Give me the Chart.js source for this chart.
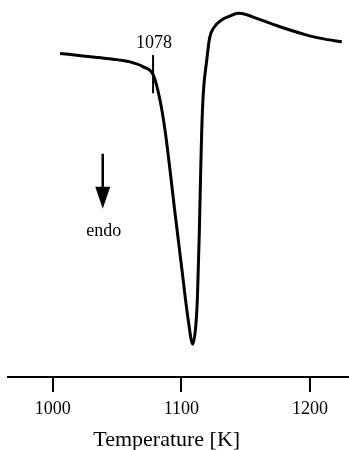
<!DOCTYPE html>
<html>
<head>
<meta charset="utf-8">
<script src="https://cdn.jsdelivr.net/npm/chart.js@4"></script>
<style>
  html, body { margin: 0; padding: 0; background: #fff; }
  #wrap { width: 349px; height: 450px; position: relative; }
</style>
</head>
<body>
<div id="wrap"><canvas id="dsc"></canvas></div>
<script>
// temperature [K] and heat flow signal (arbitrary units)
const temps = [1005.7, 1025.1, 1042.0, 1060.1, 1070.4, 1078.2, 1083.4, 1087.3, 1091.2, 1094.5,
  1100.2, 1105.4, 1108.8, 1111.3, 1112.5, 1113.9, 1115.0, 1115.8, 1117.0, 1119.7,
  1121.9, 1124.8, 1131.3, 1137.8, 1144.2, 1150.2, 1158.5, 1176.6, 1197.4, 1211.6, 1224.6];
const signal = [322.7, 320, 317.7, 314.3, 309.3, 301, 276, 246, 206, 169.3,
  109.3, 56, 32.7, 53, 81, 143, 206, 246, 282.7, 316,
  338, 347.7, 356, 360, 362.7, 361.5, 357.7, 349.3, 341, 337, 334.3];
const tickValues = [1000, 1100, 1200];

// onset marker and the "endo" arrow
const onsetTemp = 1078;
const onsetLabel = '1078';
const onsetSpan = [283, 321];
const arrowTemp = 1038.9;
const arrowSpan = [222.7, 167.7];
const endoLabel = 'endo';
const xTitle = 'Temperature [K]';
const xTitleTemp = 1088.6;

const serif = '"Liberation Serif", "Times New Roman", serif';

const extras = {
  id: 'extras',
  afterDraw(chart) {
    const ctx = chart.ctx;
    const x = chart.scales.x, y = chart.scales.y;
    ctx.save();
    ctx.strokeStyle = '#000';
    ctx.fillStyle = '#000';
    ctx.lineWidth = 2;

    // onset tick
    let mx = x.getPixelForValue(onsetTemp);
    ctx.beginPath();
    ctx.moveTo(mx, y.getPixelForValue(onsetSpan[0]));
    ctx.lineTo(mx, y.getPixelForValue(onsetSpan[1]));
    ctx.stroke();
    ctx.font = '18px ' + serif;
    ctx.textAlign = 'center';
    ctx.textBaseline = 'middle';
    ctx.fillText(onsetLabel, mx + 1, y.getPixelForValue(onsetSpan[1]) - 12);

    // arrow
    let ax = x.getPixelForValue(arrowTemp);
    let top = y.getPixelForValue(arrowSpan[0]);
    let tip = y.getPixelForValue(arrowSpan[1]);
    ctx.lineWidth = 2.5;
    ctx.beginPath();
    ctx.moveTo(ax, top);
    ctx.lineTo(ax, tip - 20);
    ctx.stroke();
    ctx.beginPath();
    ctx.moveTo(ax - 7.5, tip - 22);
    ctx.lineTo(ax + 7.5, tip - 22);
    ctx.lineTo(ax, tip);
    ctx.closePath();
    ctx.fill();
    ctx.fillText(endoLabel, ax + 1, tip + 22);

    // axis title, centred under the plotted range rather than the axis
    ctx.font = '22px ' + serif;
    ctx.fillText(xTitle, x.getPixelForValue(xTitleTemp), chart.height - 10);
    ctx.restore();
  }
};

new Chart(document.getElementById('dsc'), {
  type: 'line',
  data: {
    datasets: [{
      data: temps.map((t, i) => ({ x: t, y: signal[i] })),
      borderColor: '#000',
      borderWidth: 3,
      pointRadius: 0,
      cubicInterpolationMode: 'monotone',
      fill: false
    }]
  },
  options: {
    responsive: true,
    maintainAspectRatio: false,
    animation: false,
    layout: { padding: { left: 8, right: 0, top: 0, bottom: 24.4 } },
    plugins: { legend: { display: false }, tooltip: { enabled: false } },
    scales: {
      x: {
        type: 'linear',
        min: 965.3,
        max: 1230.2,
        afterBuildTicks: axis => { axis.ticks = tickValues.map(v => ({ value: v })); },
        grid: { drawOnChartArea: false, tickLength: 15, color: '#000', lineWidth: 2 },
        border: { display: true, color: '#000', width: 2 },
        ticks: {
          color: '#000', padding: 6, maxRotation: 0,
          font: { family: serif, size: 18, lineHeight: 1.2 },
          callback: v => String(v)
        }
      },
      y: { display: false, min: 0, max: 376 }
    }
  },
  plugins: [extras]
});
</script>
</body>
</html>
